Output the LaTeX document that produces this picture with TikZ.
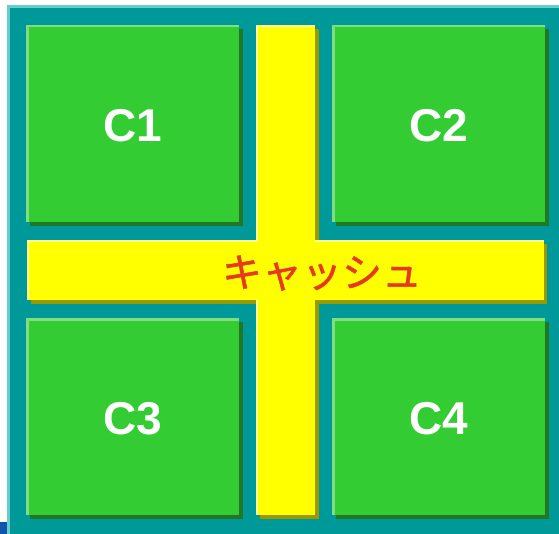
\documentclass[tikz,border=0pt]{standalone}
\usepackage{fontspec}
\setmainfont{Liberation Sans}
\newfontfamily\jpfont{Noto Sans CJK JP}[FakeBold=1.2]
\definecolor{teal0}{RGB}{0,153,153}
\definecolor{teallt}{RGB}{102,204,204}
\definecolor{grn}{RGB}{51,204,51}
\definecolor{grnlt}{RGB}{130,220,130}
\definecolor{grndk}{RGB}{34,120,34}
\definecolor{yel}{RGB}{255,255,0}
\definecolor{yellt}{RGB}{255,255,150}
\definecolor{yeldk}{RGB}{153,153,0}
\definecolor{blu}{RGB}{17,85,170}
\definecolor{redtxt}{RGB}{232,56,32}
\tikzset{
  lbl/.style={text=white,font=\fontsize{46}{46}\selectfont\bfseries},
  jplbl/.style={text=redtxt,font=\jpfont\fontsize{40}{40}\selectfont},
}
\newcommand{\shadedbox}[6]{% x1 y1 x2 y2 fill light/dark prefix
  \fill[#6dk] (#1+4,#2+4) rectangle (#3+4,#4+4);
  \fill[#6] (#1,#2) rectangle (#3,#4);
  \fill[#6lt] (#1,#2) rectangle (#3,#2+2.5);
  \fill[#6lt] (#1,#2) rectangle (#1+2.5,#4);
}
\begin{document}
\begin{tikzpicture}[x=1pt,y=-1pt]
\useasboundingbox (0,0) rectangle (559,534);
\fill[white] (0,0) rectangle (559,534);
\fill[teallt] (7,5) rectangle (559,534);
\fill[teal0] (10,8) rectangle (559,534);
\fill[blu] (0,522) rectangle (7,534);
% green boxes
\shadedbox{26}{25}{239}{222}{}{grn}
\shadedbox{332}{25}{545}{222}{}{grn}
\shadedbox{26}{318}{239}{515}{}{grn}
\shadedbox{332}{318}{545}{515}{}{grn}
% yellow cross: shadows
\fill[yeldk] (260,29) rectangle (319,519);
\fill[yeldk] (31,244) rectangle (547,304);
% fills
\fill[yel] (256,25) rectangle (315,515);
\fill[yel] (27,240) rectangle (544,300);
% highlights
\fill[yellt] (256,25) rectangle (315,27);
\fill[yellt] (256,25) rectangle (258,240);
\fill[yellt] (256,300) rectangle (258,515);
\fill[yellt] (27,240) rectangle (258,242);
\fill[yellt] (315,240) rectangle (544,242);
\fill[yellt] (27,240) rectangle (29,300);
% labels
\node[lbl] (c1) at (132.5,126) {C1};
\node[lbl] (c2) at (438.5,126) {C2};
\node[lbl] (c3) at (132.5,419) {C3};
\node[lbl] (c4) at (438.5,419) {C4};
\node[jplbl] (cache) at (322,273) {キャッシュ};
\end{tikzpicture}
\end{document}
